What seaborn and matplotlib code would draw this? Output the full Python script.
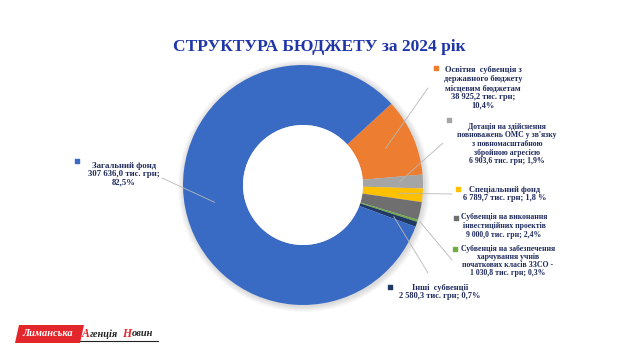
import matplotlib
matplotlib.use("Agg")
import matplotlib.pyplot as plt
import matplotlib.patches as mpatches
import numpy as np
import seaborn as sns

# дані (тис. грн)
names = ["Освіта", "Дотація", "Спеціальний фонд", "Інвест. проекти",
         "Харчування", "Інші субвенції", "Загальний фонд"]
values = [38925.2, 6903.6, 6789.7, 9000.0, 1030.8, 2580.3, 307636.0]
labels = [
    "Освітня  субвенція з\nдержавного бюджету\nмісцевим бюджетам\n38 925,2 тис. грн;\n10,4%",
    "Дотація на здійснення\nповноважень ОМС у зв'язку\nз повномасштабною\nзбройною агресією\n6 903,6 тис. грн; 1,9%",
    "Спеціальний фонд\n6 789,7 тис. грн; 1,8 %",
    "Субвенція на виконання\nінвестиційних проектів\n9 000,0 тис. грн; 2,4%",
    "Субвенція на забезпечення\nхарчування учнів\nпочаткових класів ЗЗСО -\n1 030,8 тис. грн; 0,3%",
    "Інші  субвенції\n2 580,3 тис. грн; 0,7%",
    "Загальний фонд\n307 636,0 тис. грн;\n82,5%",
]
colors = ["#ED7D31", "#A5A5A5", "#FFC000", "#6F6F6F", "#70AD47", "#203864", "#3A6BC4"]

sns.set_theme(style="white")
plt.rcParams["font.family"] = ["Liberation Serif", "DejaVu Serif"]

W, H = 630, 355
fig = plt.figure(figsize=(6.3, 3.55), dpi=100)
ax = fig.add_axes([0, 0, 1, 1])

def py(y):
    return H - y

cx, cy, R = 303, py(185), 120

# легка тінь
for k in range(6):
    ax.add_patch(mpatches.Circle((cx + 1, cy - 1), R + 1 + k, color="#000000",
                                 alpha=0.022, lw=0, zorder=0))

wedges, _ = ax.pie(values, colors=colors, startangle=42.6, counterclock=False,
                   center=(cx, cy), radius=R, frame=True,
                   wedgeprops=dict(width=R * 0.5, edgecolor="none"))
ax.add_patch(mpatches.Circle((cx, cy), R * 0.5, color="white", lw=0, zorder=3))
ax.set_xlim(0, W)
ax.set_ylim(0, H)
ax.set_aspect("equal")
ax.axis("off")

txt_col = "#1F2A5C"
# позиції підписів (центр блоку тексту), маркер, розмір, кінець лінії, радіус початку лінії, міжрядковий
pos = [
    (483, 88, 436, 68, 6.0, (428, 88), 0.75, 1.15),
    (507, 144, 449, 120, 5.6, (443, 143), 0.8, 1.12),
    (505, 194, 458, 189, 6.0, (452, 194), 0.8, 1.15),
    (504, 226, 456, 218, 5.6, None, 0.8, 1.12),
    (508, 261, 455, 249, 5.6, (452, 260), 1.02, 1.05),
    (440, 292, 390, 287, 6.0, (428, 273), 0.8, 1.15),
    (124, 174, 77, 161, 6.3, (162, 178), 0.75, 1.05),
]

for w, lab, col, (tx, ty, mx, my, fs, lend, r0, ls) in zip(wedges, labels, colors, pos):
    ax.text(tx, py(ty), lab, ha="center", va="center", fontsize=fs,
            fontweight="bold", color=txt_col, linespacing=ls, zorder=5)
    ax.scatter([mx], [py(my)], marker="s", s=5, color=col, zorder=5)
    if lend is not None:
        ang = np.deg2rad((w.theta1 + w.theta2) / 2)
        x0 = cx + r0 * R * np.cos(ang)
        y0 = cy + r0 * R * np.sin(ang)
        ax.plot([x0, lend[0]], [y0, py(lend[1])], color="#B8B8B8", lw=0.6, zorder=4)

# заголовок
ax.text(319, py(47), "СТРУКТУРА БЮДЖЕТУ за 2024 рік", ha="center", va="center",
        fontsize=12.5, fontweight="bold", color="#1F35A8")

# логотип
ax.add_patch(mpatches.Polygon([(19, py(325)), (84, py(325)), (80, py(343)), (15, py(343))],
                              closed=True, color="#E3262B", lw=0, zorder=3))
ax.text(48, py(334), "Лиманська", ha="center", va="center", fontsize=7.5,
        fontweight="bold", fontstyle="italic", color="white", zorder=4)
ax.text(86, py(334), "А", ha="center", va="center", fontsize=8.5,
        fontweight="bold", fontstyle="italic", color="#E3262B", zorder=4)
ax.text(90, py(334), "генція", ha="left", va="center", fontsize=7.5,
        fontweight="bold", fontstyle="italic", color="#222222", zorder=4)
ax.text(127, py(334), "Н", ha="center", va="center", fontsize=8.5,
        fontweight="bold", fontstyle="italic", color="#E3262B", zorder=4)
ax.text(132, py(334), "овин", ha="left", va="center", fontsize=7.5,
        fontweight="bold", fontstyle="italic", color="#222222", zorder=4)
ax.plot([80, 158], [py(341), py(341)], color="#222222", lw=0.8, zorder=4)

fig.savefig("out.png", dpi=100, facecolor="white")
